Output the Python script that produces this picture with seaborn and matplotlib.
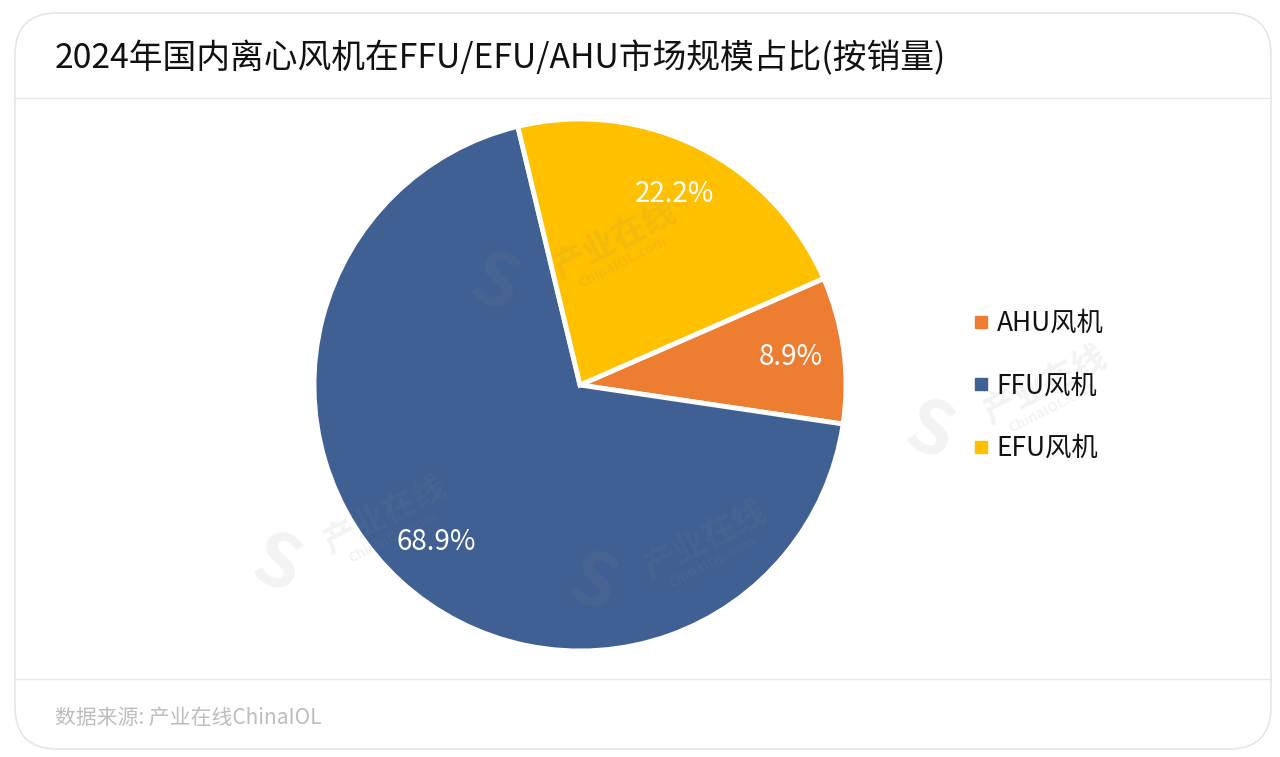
import matplotlib
matplotlib.use("Agg")
import matplotlib.pyplot as plt
from matplotlib.lines import Line2D
from matplotlib.patches import FancyBboxPatch
import seaborn as sns

categories = ["AHU风机", "FFU风机", "EFU风机"]
shares = [8.9, 68.9, 22.2]
colors = ["#ED7D31", "#406094", "#FFC000"]
title = "2024年国内离心风机在FFU/EFU/AHU市场规模占比(按销量)"
source = "数据来源: 产业在线ChinaIOL"

sns.set_theme(style="white")
plt.rcParams["font.family"] = ["Noto Sans CJK SC", "DejaVu Sans"]
W, H = 1280, 757
fig = plt.figure(figsize=(W / 100, H / 100), dpi=100, facecolor="white")

# page furniture in pixel coordinates
bg = fig.add_axes([0, 0, 1, 1])
bg.set_xlim(0, W)
bg.set_ylim(H, 0)
bg.axis("off")
bg.add_patch(FancyBboxPatch((15, 13), 1256, 736, boxstyle="round,pad=0,rounding_size=42",
                            fc="white", ec="#E4E4E4", lw=1.1))
bg.plot([15, 1271], [98, 98], color="#E8E8E8", lw=1)
bg.plot([15, 1271], [679, 679], color="#E8E8E8", lw=1)
bg.text(55, 59, title, fontsize=24.3, color="#111111", va="center", ha="left")
bg.text(55, 718, source, fontsize=15, color="#BDBDBD", va="center", ha="left")

# pie
cx, cy, r = 580, 385, 266
ax = fig.add_axes([(cx - r) / W, 1 - (cy + r) / H, 2 * r / W, 2 * r / H])
wedges, _, autotexts = ax.pie(
    shares, colors=colors, startangle=23.6, counterclock=False,
    autopct="%.1f%%", pctdistance=0.8,
    wedgeprops=dict(edgecolor="white", linewidth=3.5, clip_on=False),
    textprops=dict(color="white", fontsize=20), radius=1,
)
ax.set_xlim(-1, 1)
ax.set_ylim(-1, 1)
ax.set_aspect("equal")

# faint watermarks
wm = fig.add_axes([0, 0, 1, 1], facecolor="none")
wm.set_xlim(0, W)
wm.set_ylim(H, 0)
wm.axis("off")
for x, y in [(385, 515), (705, 540), (615, 240), (1045, 385)]:
    wm.text(x, y, "产业在线", fontsize=24, fontweight="bold", color="#888888", alpha=0.10,
            rotation=27, ha="center", va="center")
    wm.text(x + 8, y + 22, "ChinaIOL.com", fontsize=10, fontweight="bold", color="#888888", alpha=0.10,
            rotation=27, ha="center", va="center")
for x, y in [(277, 566), (593, 585), (495, 285), (930, 433)]:
    wm.text(x, y, "S", fontsize=52, fontweight="bold", color="#888888", alpha=0.10,
            rotation=-20, ha="center", va="center")

# legend
handles = [Line2D([], [], ls="none", marker="s", ms=8.5, color=c, mec=c) for c in colors]
fig.legend(handles, categories, loc="center left", bbox_to_anchor=(965 / W, 1 - 386 / H),
           frameon=False, fontsize=19, labelspacing=1.35, handletextpad=0.0, handlelength=1.2,
           labelcolor="#111111", borderpad=0, borderaxespad=0)

fig.savefig("out.png", dpi=100)
